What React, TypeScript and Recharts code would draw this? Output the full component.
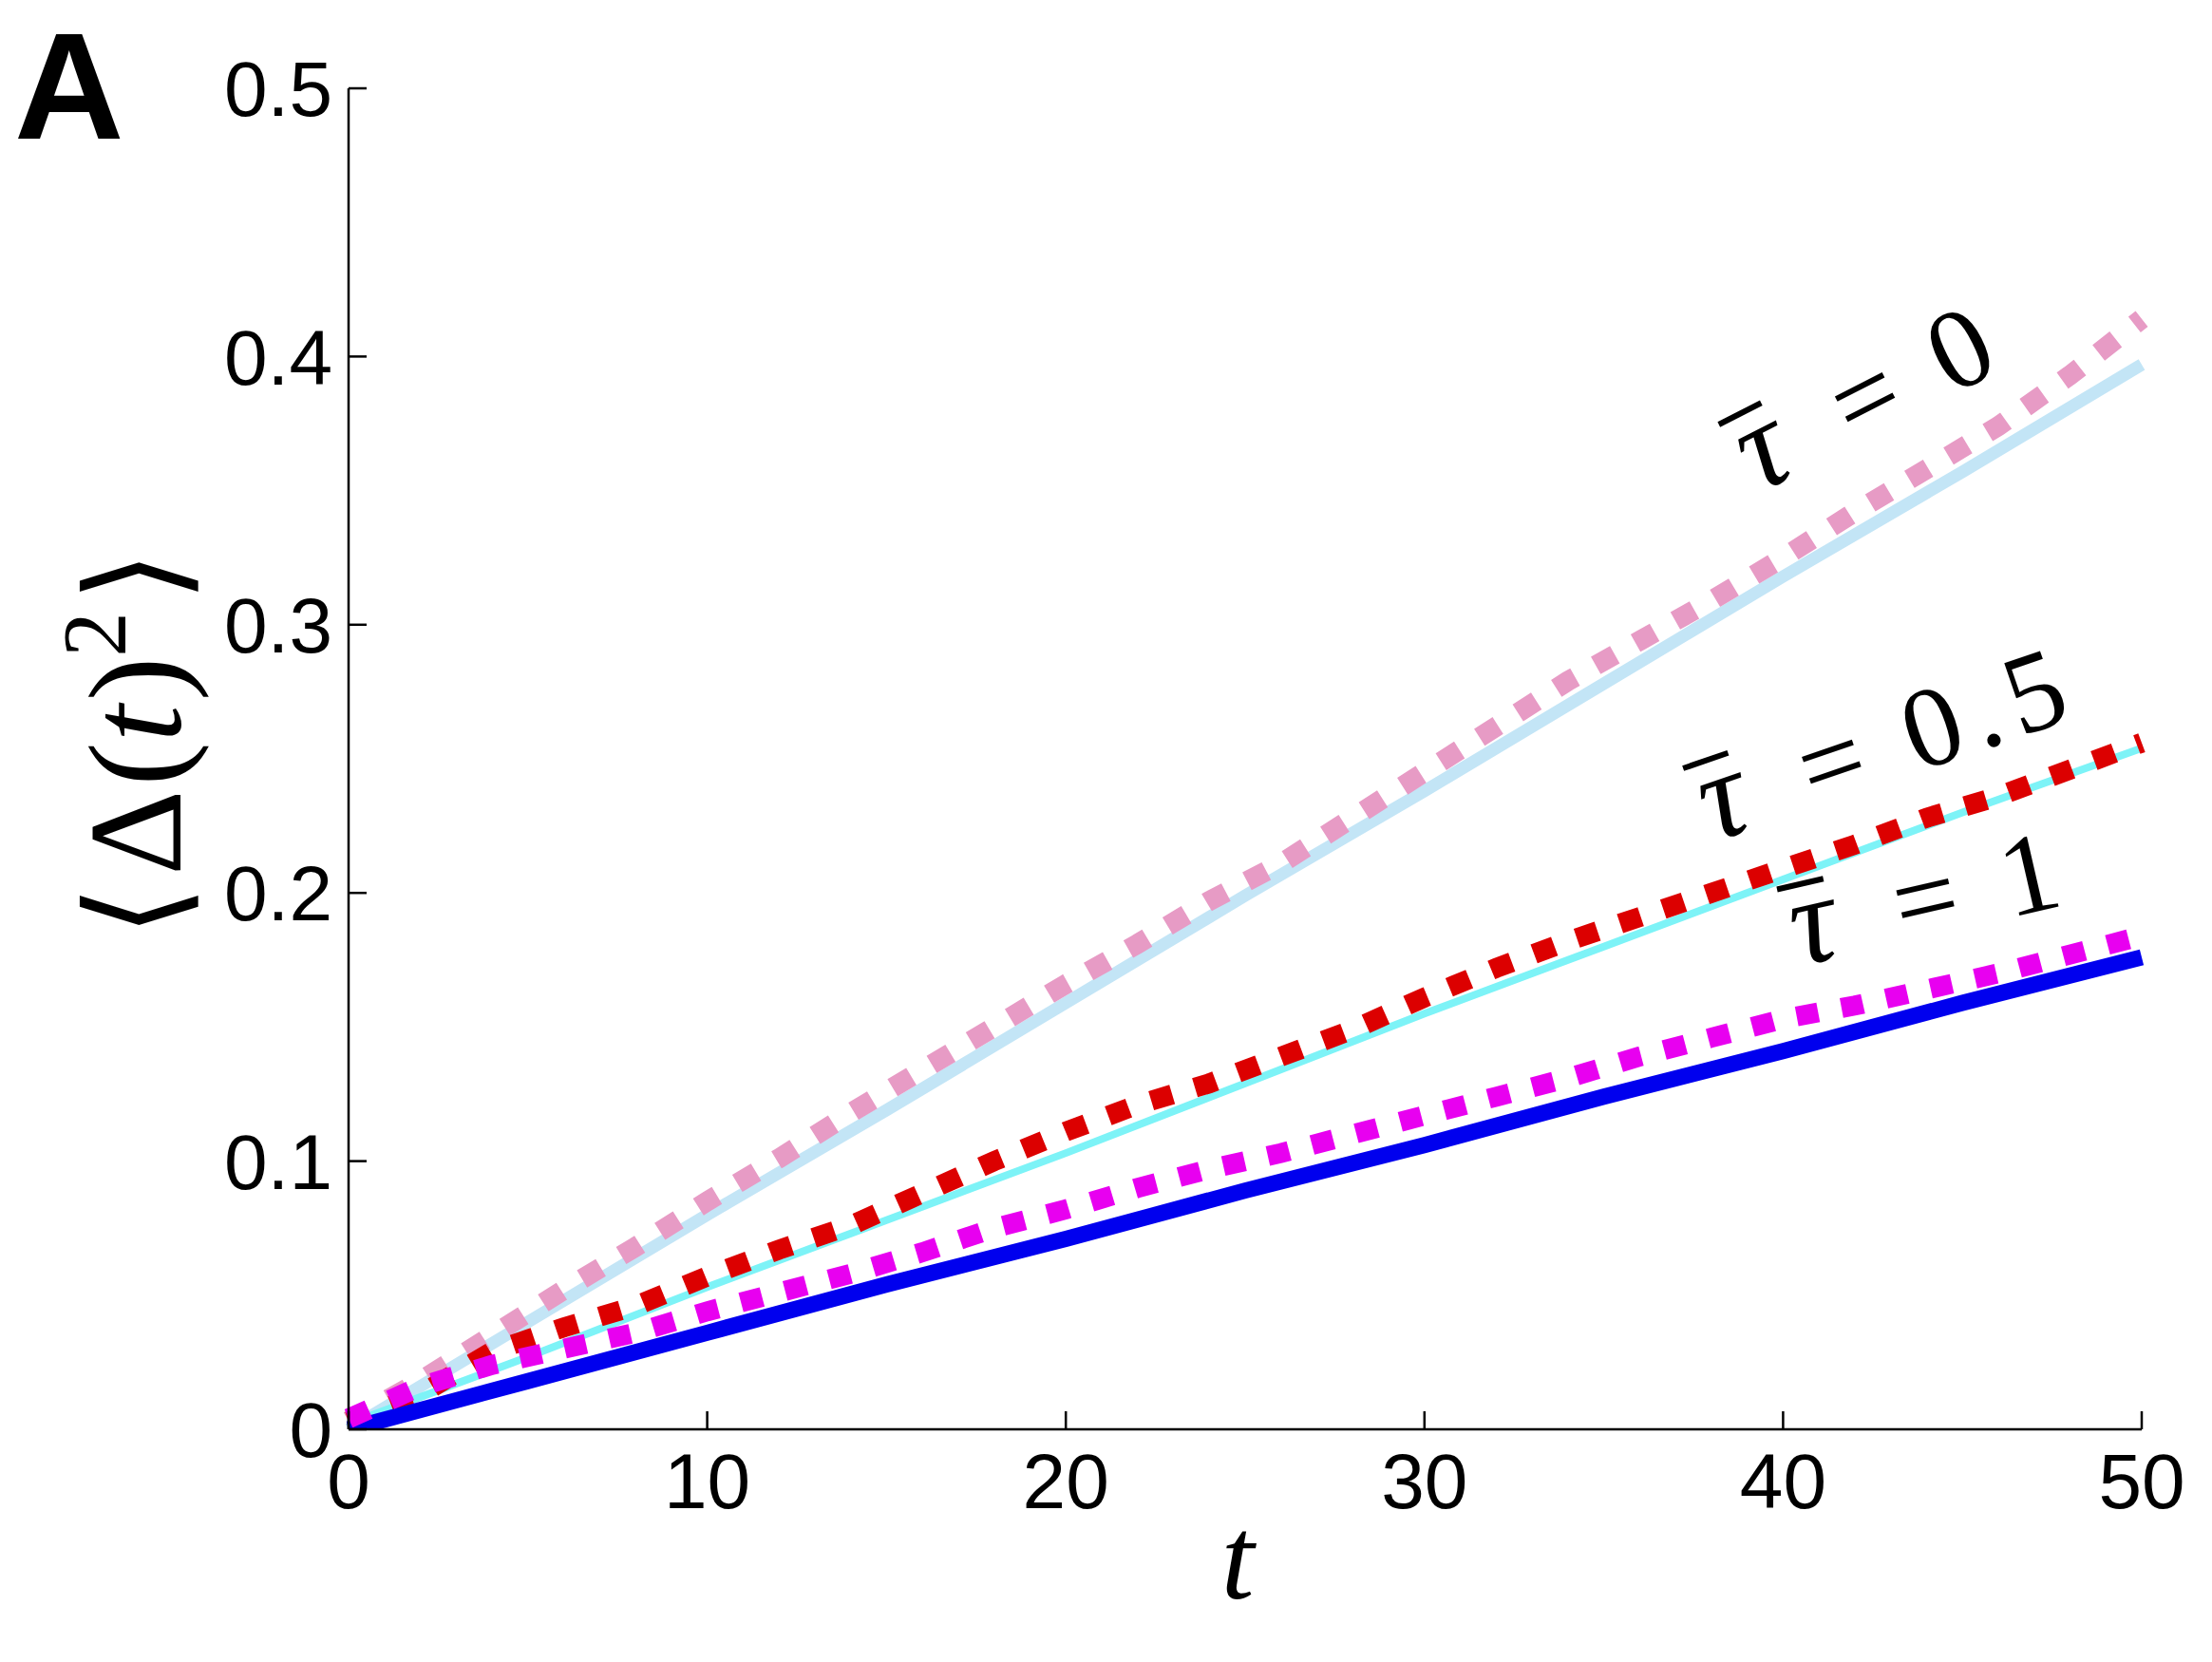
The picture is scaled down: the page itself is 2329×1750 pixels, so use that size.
import React from 'react';
import { LineChart, Line, XAxis, YAxis, ReferenceDot, Label } from 'recharts';

// time grid of the theory curves and of the simulations
const tTheory = [0, 5, 10, 15, 20, 25, 30, 35, 40, 45, 50];
const tSim = [0, 2, 4, 6, 8, 10, 12, 14, 16, 18, 20, 22, 24, 26, 28, 30, 32, 34, 36, 38, 40, 42, 44, 46, 48, 50];

// theory, solid lines
const theoryTau0 = [0, 0.04, 0.08, 0.119, 0.159, 0.199, 0.238, 0.278, 0.318, 0.357, 0.397];
const theoryTau05 = [0.002, 0.027, 0.053, 0.078, 0.103, 0.129, 0.155, 0.18, 0.205, 0.23, 0.254];
const theoryTau1 = [0, 0.018, 0.036, 0.054, 0.071, 0.089, 0.106, 0.124, 0.141, 0.159, 0.176];

// simulations, dotted lines
const simTau0 = [0.003, 0.018, 0.035, 0.052, 0.068, 0.085, 0.101, 0.118, 0.134, 0.15, 0.166, 0.181, 0.197, 0.211, 0.228, 0.245, 0.262, 0.279, 0.294, 0.309, 0.325, 0.342, 0.358, 0.374, 0.393, 0.414];
const simTau05 = [0.003, 0.013, 0.029, 0.038, 0.046, 0.057, 0.067, 0.076, 0.088, 0.1, 0.111, 0.121, 0.129, 0.139, 0.149, 0.161, 0.172, 0.182, 0.191, 0.2, 0.209, 0.218, 0.228, 0.236, 0.246, 0.256];
const simTau1 = [0.004, 0.016, 0.024, 0.03, 0.036, 0.044, 0.051, 0.058, 0.066, 0.075, 0.082, 0.09, 0.097, 0.103, 0.11, 0.117, 0.124, 0.131, 0.139, 0.146, 0.153, 0.158, 0.164, 0.17, 0.177, 0.184];

const xTicks = [0, 10, 20, 30, 40, 50];
const yTicks = [0, 0.1, 0.2, 0.3, 0.4, 0.5];
const tauLabels = ['0', '0.5', '1'];

const toPoints = (ts: number[], vs: number[]) => ts.map((t, i) => ({ t, v: vs[i] }));

const tickFont = { fill: '#000', fontSize: 82, fontFamily: 'Liberation Sans, Arial, sans-serif' };
const serif = 'Liberation Serif, DejaVu Serif, serif';

// "tau-bar = value", centred on the "=" sign and turned along the curve
function tauLabel(value: string, angle: number) {
  return (props: any) => {
    const { x, y } = props.viewBox;
    return (
      <g transform={`translate(${x},${y}) rotate(${angle})`} fill="#000">
        <text x={-122} y={34} textAnchor="middle" fontFamily={serif} fontStyle="italic" fontSize={132}>
          {'\u03c4'}
        </text>
        <line x1={-150} y1={-50} x2={-100} y2={-50} stroke="#000" strokeWidth={6} />
        <text x={0} y={34} textAnchor="middle" fontFamily={serif} fontSize={120}>
          =
        </text>
        <text x={82} y={34} textAnchor="start" fontFamily={serif} fontSize={120}>
          {value.split('').map((c, i) => (
            <tspan key={i} dx={i === 0 ? 0 : 12}>
              {c}
            </tspan>
          ))}
        </text>
      </g>
    );
  };
}

export default function App() {
  return (
    <div style={{ position: 'absolute', left: 0, top: 0, width: 2329, height: 1750, background: '#fff' }}>
      <LineChart width={2329} height={1750} margin={{ top: 93, right: 74, bottom: 0, left: 0 }}>
        <XAxis
          type="number"
          dataKey="t"
          domain={[0, 50]}
          ticks={xTicks}
          height={245}
          tick={tickFont}
          tickSize={-19}
          tickMargin={44}
          axisLine={{ stroke: '#000', strokeWidth: 2.5 }}
          tickLine={{ stroke: '#000', strokeWidth: 2.5 }}
        >
          <Label
            content={(props: any) => {
              const vb = props.viewBox;
              return (
                <text x={vb.x + vb.width / 2 - 8} y={vb.y + 178} textAnchor="middle" fontFamily={serif} fontStyle="italic" fontSize={125} fill="#000">
                  t
                </text>
              );
            }}
          />
        </XAxis>
        <YAxis
          type="number"
          domain={[0, 0.5]}
          allowDataOverflow
          ticks={yTicks}
          width={367}
          tick={tickFont}
          tickFormatter={(v: number) => (v === 0 ? '0' : v.toFixed(1))}
          tickSize={-19}
          tickMargin={36}
          axisLine={{ stroke: '#000', strokeWidth: 2.5 }}
          tickLine={{ stroke: '#000', strokeWidth: 2.5 }}
        >
          <Label
            content={(props: any) => {
              const vb = props.viewBox;
              return (
                <g transform={`translate(${vb.x + 190},${vb.y + vb.height / 2 - 16}) rotate(-90)`}>
                  <text x={0} y={0} textAnchor="middle" fontFamily={serif} fontSize={140} fill="#000">
                    <tspan>{'\u27e8'}</tspan>
                    <tspan dx={10}>{'\u0394'}</tspan>
                    <tspan dx={4}>(</tspan>
                    <tspan fontStyle="italic">t</tspan>
                    <tspan dx={4}>)</tspan>
                    <tspan dy={-58} fontSize={95}>2</tspan>
                    <tspan dy={58} dx={10}>{'\u27e9'}</tspan>
                  </text>
                </g>
              );
            }}
          />
        </YAxis>

        <Line data={toPoints(tTheory, theoryTau0)} dataKey="v" type="linear" stroke="#c3e5f6" strokeWidth={13} dot={false} activeDot={false} isAnimationActive={false} />
        <Line data={toPoints(tSim, simTau0)} dataKey="v" type="linear" stroke="#e79bc5" strokeWidth={21} strokeDasharray="23 25" dot={false} activeDot={false} isAnimationActive={false} />
        <Line data={toPoints(tTheory, theoryTau05)} dataKey="v" type="linear" stroke="#7df3f7" strokeWidth={8} dot={false} activeDot={false} isAnimationActive={false} />
        <Line data={toPoints(tSim, simTau05)} dataKey="v" type="linear" stroke="#dc0000" strokeWidth={21} strokeDasharray="23 25" dot={false} activeDot={false} isAnimationActive={false} />
        <Line data={toPoints(tTheory, theoryTau1)} dataKey="v" type="linear" stroke="#0000ee" strokeWidth={17} dot={false} activeDot={false} isAnimationActive={false} />
        <Line data={toPoints(tSim, simTau1)} dataKey="v" type="linear" stroke="#e800f0" strokeWidth={21} strokeDasharray="23 25" dot={false} activeDot={false} isAnimationActive={false} />

        <ReferenceDot x={42.35} y={0.383} r={0} fill="none" stroke="none" label={tauLabel(tauLabels[0], -27)} />
        <ReferenceDot x={41.4} y={0.247} r={0} fill="none" stroke="none" label={tauLabel(tauLabels[1], -19)} />
        <ReferenceDot x={44.0} y={0.196} r={0} fill="none" stroke="none" label={tauLabel(tauLabels[2], -13)} />
      </LineChart>
      <svg width={2329} height={1750} style={{ position: 'absolute', left: 0, top: 0, pointerEvents: 'none' }}>
        <text x={15} y={146} fontFamily="Liberation Sans, Arial, sans-serif" fontWeight="bold" fontSize={160} fill="#000">
          A
        </text>
      </svg>
    </div>
  );
}
